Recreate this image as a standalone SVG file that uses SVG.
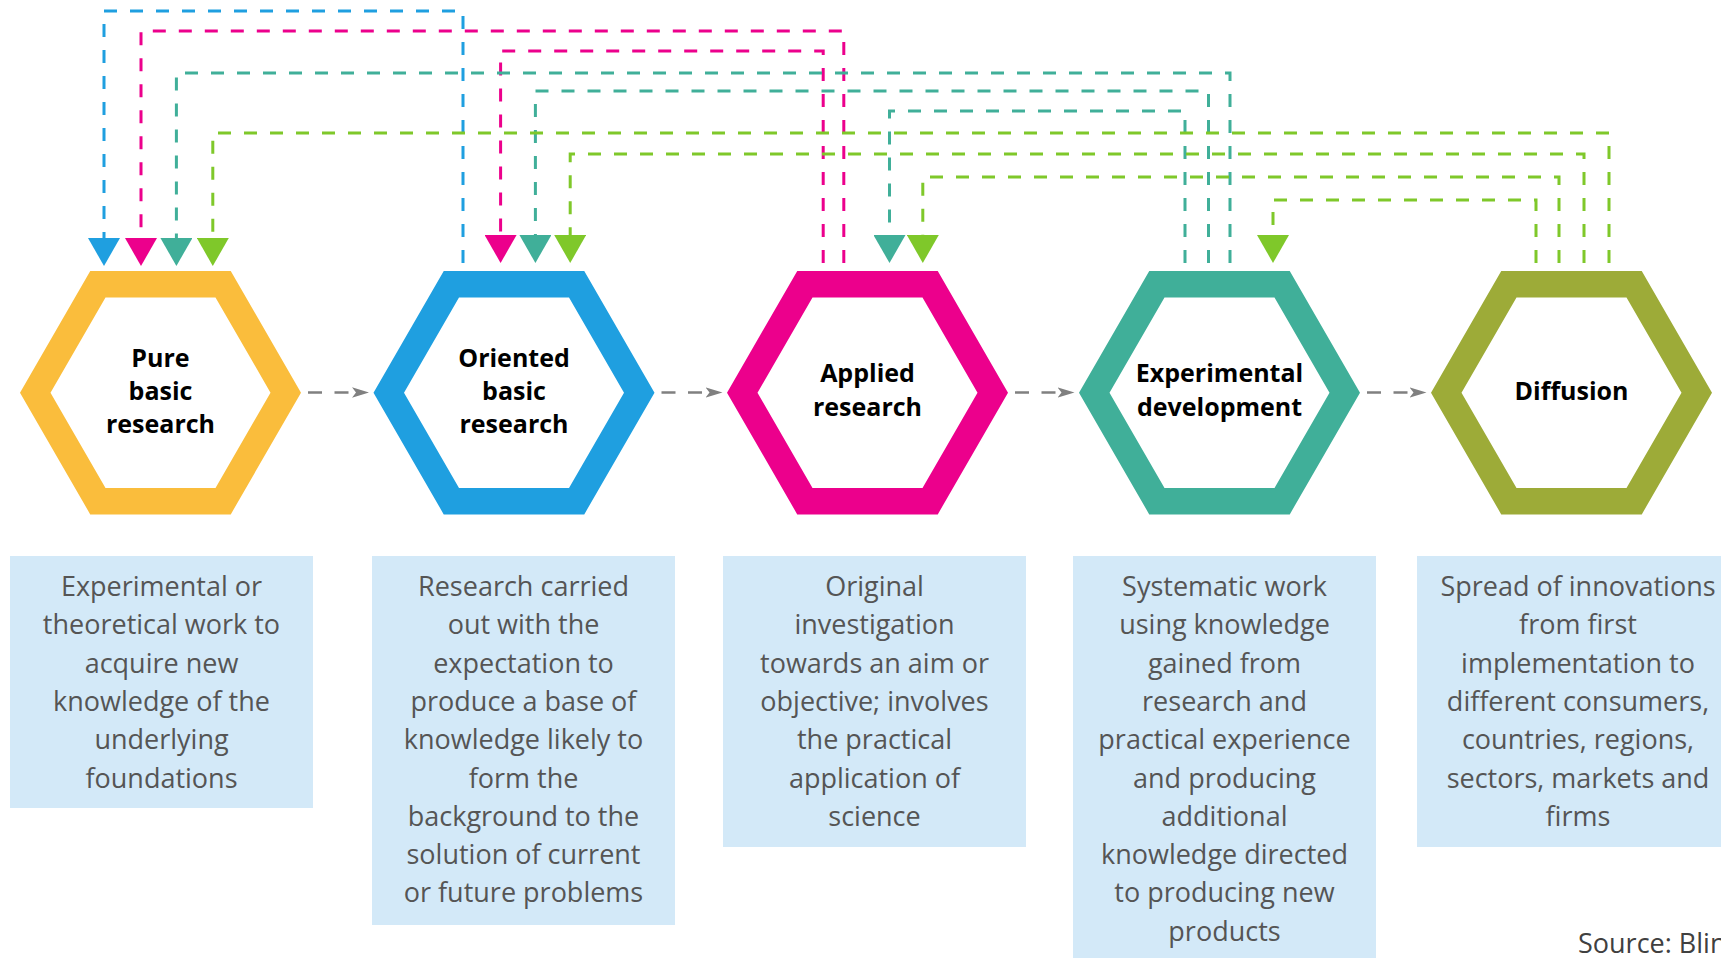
<svg xmlns="http://www.w3.org/2000/svg" width="1721" height="958" viewBox="0 0 1721 958">
<style>
.hexlbl{font-family:"Open Sans","Liberation Sans",sans-serif;font-weight:700;font-size:25px;fill:#000;text-anchor:middle}
.desc{font-family:"Open Sans","Liberation Sans",sans-serif;font-weight:400;font-size:27px;fill:#555555;text-anchor:middle}
.box{fill:#D3E9F8}
.c{fill:none;stroke-width:3;stroke-dasharray:13 13}
.blue{stroke:#1F9FE0}.pink{stroke:#EC008C}.teal{stroke:#40AF99}.green{stroke:#7FC82A}
.gray{fill:none;stroke:#808080;stroke-width:2.5;stroke-dasharray:14 12.5}
</style>
<defs>
<path id="hex" fill-rule="evenodd" d="M-140.5,0 L-70.25,-121.7 L70.25,-121.7 L140.5,0 L70.25,121.7 L-70.25,121.7 Z M-110,0 L-55,-95.3 L55,-95.3 L110,0 L55,95.3 L-55,95.3 Z"/>
<marker id="mBlue" viewBox="0 -16 28 32" markerWidth="28" markerHeight="32" refX="0" refY="0" orient="auto" markerUnits="userSpaceOnUse"><path d="M0,-16 L28,0 L0,16 Z" fill="#1F9FE0"/></marker>
<marker id="mPink" viewBox="0 -16 28 32" markerWidth="28" markerHeight="32" refX="0" refY="0" orient="auto" markerUnits="userSpaceOnUse"><path d="M0,-16 L28,0 L0,16 Z" fill="#EC008C"/></marker>
<marker id="mTeal" viewBox="0 -16 28 32" markerWidth="28" markerHeight="32" refX="0" refY="0" orient="auto" markerUnits="userSpaceOnUse"><path d="M0,-16 L28,0 L0,16 Z" fill="#40AF99"/></marker>
<marker id="mGreen" viewBox="0 -16 28 32" markerWidth="28" markerHeight="32" refX="0" refY="0" orient="auto" markerUnits="userSpaceOnUse"><path d="M0,-16 L28,0 L0,16 Z" fill="#7FC82A"/></marker>
<marker id="mGray" viewBox="0 -6 17 12" markerWidth="17" markerHeight="12" refX="0" refY="0" orient="auto" markerUnits="userSpaceOnUse"><path d="M0,-5.2 L17,0 L0,5.2 L4,0 Z" fill="#808080"/></marker>
</defs>
<rect width="1721" height="958" fill="#fff"/>

<g id="connectors">
<path class="c blue" d="M463,263 V11 H104 V238" marker-end="url(#mBlue)"/>
<path class="c pink" d="M843.8,263 V31 H141 V238" marker-end="url(#mPink)"/>
<path class="c pink" d="M823.2,263 V51 H500.6 V235" marker-end="url(#mPink)"/>
<path class="c teal" d="M1230,263 V73 H176.4 V238" marker-end="url(#mTeal)"/>
<path class="c teal" d="M1208.5,263 V91 H535.4 V235" marker-end="url(#mTeal)"/>
<path class="c teal" d="M1185,263 V111 H889.5 V235" marker-end="url(#mTeal)"/>
<path class="c green" d="M1609,263 V133 H212.8 V238" marker-end="url(#mGreen)"/>
<path class="c green" d="M1584,263 V154 H570.2 V235" marker-end="url(#mGreen)"/>
<path class="c green" d="M1559,263 V177 H922.8 V235" marker-end="url(#mGreen)"/>
<path class="c green" d="M1536,263 V200 H1273 V235" marker-end="url(#mGreen)"/>
<path class="gray" d="M308,392.5 H352" marker-end="url(#mGray)"/>
<path class="gray" d="M661.5,392.5 H705.5" marker-end="url(#mGray)"/>
<path class="gray" d="M1015,392.5 H1057.5" marker-end="url(#mGray)"/>
<path class="gray" d="M1367,392.5 H1409.5" marker-end="url(#mGray)"/>
</g>

<g id="pure-basic">
<use href="#hex" x="160.5" y="392.7" fill="#FABD3C"/>
<text class="hexlbl" x="160.5" y="366.7">Pure</text>
<text class="hexlbl" x="160.5" y="400">basic</text>
<text class="hexlbl" x="160.5" y="433.3">research</text>
</g>
<g id="oriented-basic">
<use href="#hex" x="514" y="392.7" fill="#1F9FE0"/>
<text class="hexlbl" x="514" y="366.7">Oriented</text>
<text class="hexlbl" x="514" y="400">basic</text>
<text class="hexlbl" x="514" y="433.3">research</text>
</g>
<g id="applied">
<use href="#hex" x="867.5" y="392.7" fill="#EC008C"/>
<text class="hexlbl" x="867.5" y="382.3">Applied</text>
<text class="hexlbl" x="867.5" y="415.7">research</text>
</g>
<g id="experimental">
<use href="#hex" x="1219.5" y="392.7" fill="#40AF99"/>
<text class="hexlbl" x="1219.5" y="382.3">Experimental</text>
<text class="hexlbl" x="1219.5" y="415.7">development</text>
</g>
<g id="diffusion">
<use href="#hex" x="1571.5" y="392.7" fill="#9DAB38"/>
<text class="hexlbl" x="1571.5" y="400">Diffusion</text>
</g>

<g id="desc-pure">
<rect class="box" x="10" y="556" width="303" height="252"/>
<text class="desc" x="161.5" y="596">Experimental or<tspan x="161.5" dy="38.3">theoretical work to</tspan><tspan x="161.5" dy="38.3">acquire new</tspan><tspan x="161.5" dy="38.3">knowledge of the</tspan><tspan x="161.5" dy="38.3">underlying</tspan><tspan x="161.5" dy="38.3">foundations</tspan></text>
</g>
<g id="desc-oriented">
<rect class="box" x="372" y="556" width="303" height="369"/>
<text class="desc" x="523.5" y="596">Research carried<tspan x="523.5" dy="38.3">out with the</tspan><tspan x="523.5" dy="38.3">expectation to</tspan><tspan x="523.5" dy="38.3">produce a base of</tspan><tspan x="523.5" dy="38.3">knowledge likely to</tspan><tspan x="523.5" dy="38.3">form the</tspan><tspan x="523.5" dy="38.3">background to the</tspan><tspan x="523.5" dy="38.3">solution of current</tspan><tspan x="523.5" dy="38.3">or future problems</tspan></text>
</g>
<g id="desc-applied">
<rect class="box" x="723" y="556" width="303" height="291"/>
<text class="desc" x="874.5" y="596">Original<tspan x="874.5" dy="38.3">investigation</tspan><tspan x="874.5" dy="38.3">towards an aim or</tspan><tspan x="874.5" dy="38.3">objective; involves</tspan><tspan x="874.5" dy="38.3">the practical</tspan><tspan x="874.5" dy="38.3">application of</tspan><tspan x="874.5" dy="38.3">science</tspan></text>
</g>
<g id="desc-experimental">
<rect class="box" x="1073" y="556" width="303" height="402"/>
<text class="desc" x="1224.5" y="596">Systematic work<tspan x="1224.5" dy="38.3">using knowledge</tspan><tspan x="1224.5" dy="38.3">gained from</tspan><tspan x="1224.5" dy="38.3">research and</tspan><tspan x="1224.5" dy="38.3">practical experience</tspan><tspan x="1224.5" dy="38.3">and producing</tspan><tspan x="1224.5" dy="38.3">additional</tspan><tspan x="1224.5" dy="38.3">knowledge directed</tspan><tspan x="1224.5" dy="38.3">to producing new</tspan><tspan x="1224.5" dy="38.3">products</tspan></text>
</g>
<g id="desc-diffusion">
<rect class="box" x="1417" y="556" width="304" height="291"/>
<text class="desc" x="1578" y="596">Spread of innovations<tspan x="1578" dy="38.3">from first</tspan><tspan x="1578" dy="38.3">implementation to</tspan><tspan x="1578" dy="38.3">different consumers,</tspan><tspan x="1578" dy="38.3">countries, regions,</tspan><tspan x="1578" dy="38.3">sectors, markets and</tspan><tspan x="1578" dy="38.3">firms</tspan></text>
</g>
<text class="desc" x="1578" y="952.7" style="text-anchor:start;fill:#404040">Source: Blin</text>
</svg>
